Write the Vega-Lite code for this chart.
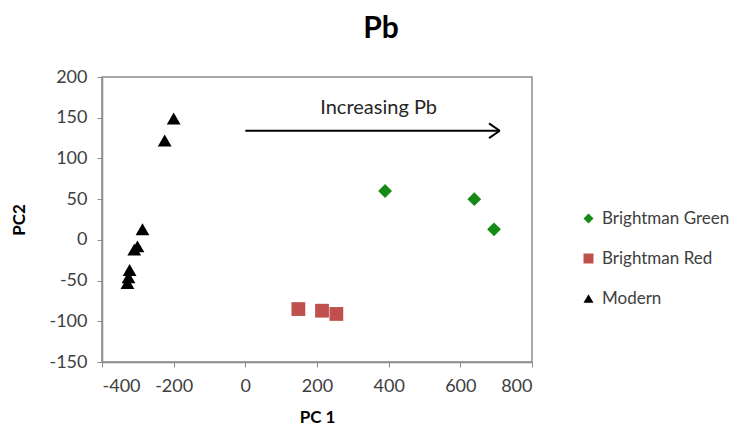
{
  "$schema": "https://vega.github.io/schema/vega-lite/v6.json",
  "width": 430,
  "height": 285,
  "autosize": "none",
  "padding": {"left": 102, "top": 77, "right": 224, "bottom": 71},
  "background": "white",
  "title": {
    "text": "Pb",
    "font": "Lato",
    "fontSize": 30,
    "fontWeight": "bold",
    "color": "#000000",
    "anchor": "middle",
    "dx": 64,
    "offset": 24
  },
  "config": {
    "view": {"stroke": "#8C8C8C", "strokeWidth": 1.5},
    "axis": {
      "grid": false,
      "domainColor": "#8C8C8C",
      "domainWidth": 1.5,
      "tickColor": "#8C8C8C",
      "tickSize": 5,
      "labelFont": "Lato",
      "labelFontSize": 18,
      "labelColor": "#404040",
      "labelExpr": "datum.value < 0 ? '-' + abs(datum.value) : '' + datum.value",
      "titleFont": "Lato",
      "titleFontSize": 17,
      "titleFontWeight": "bold",
      "titleColor": "#000000"
    },
    "legend": {"labelFont": "Lato", "labelFontSize": 17, "labelColor": "#404040"}
  },
  "layer": [
    {
      "data": {
        "values": [
          {"group": "Modern", "pc1": -200, "pc2": 149},
          {"group": "Modern", "pc1": -225, "pc2": 122},
          {"group": "Modern", "pc1": -287, "pc2": 13},
          {"group": "Modern", "pc1": -301, "pc2": -8},
          {"group": "Modern", "pc1": -310, "pc2": -12},
          {"group": "Modern", "pc1": -323, "pc2": -37},
          {"group": "Modern", "pc1": -326, "pc2": -46},
          {"group": "Modern", "pc1": -329, "pc2": -53},
          {"group": "Brightman Green", "pc1": 390, "pc2": 60},
          {"group": "Brightman Green", "pc1": 639, "pc2": 50},
          {"group": "Brightman Green", "pc1": 694, "pc2": 13},
          {"group": "Brightman Red", "pc1": 148, "pc2": -85},
          {"group": "Brightman Red", "pc1": 214, "pc2": -87},
          {"group": "Brightman Red", "pc1": 254, "pc2": -91}
        ]
      },
      "mark": {"type": "point", "filled": true, "opacity": 1, "size": 190},
      "encoding": {
        "x": {
          "field": "pc1",
          "type": "quantitative",
          "scale": {"domain": [-400, 800], "nice": false, "zero": false},
          "axis": {"values": [-400, -200, 0, 200, 400, 600, 800], "title": "PC 1", "labelPadding": 10, "titlePadding": 14}
        },
        "y": {
          "field": "pc2",
          "type": "quantitative",
          "scale": {"domain": [-150, 200], "nice": false, "zero": false},
          "axis": {"values": [-150, -100, -50, 0, 50, 100, 150, 200], "title": "PC2", "labelPadding": 10, "titlePadding": 20}
        },
        "color": {
          "field": "group",
          "type": "nominal",
          "scale": {
            "domain": ["Brightman Green", "Brightman Red", "Modern"],
            "range": ["#168A16", "#C0504D", "#000000"]
          },
          "legend": {
            "title": null,
            "orient": "none",
            "legendX": 478,
            "legendY": 133,
            "symbolSize": 100,
            "rowPadding": 22,
            "labelOffset": 5,
            "symbolStrokeWidth": 0
          }
        },
        "shape": {
          "field": "group",
          "type": "nominal",
          "scale": {
            "domain": ["Brightman Green", "Brightman Red", "Modern"],
            "range": ["diamond", "square", "triangle-up"]
          },
          "legend": null
        }
      }
    },
    {
      "data": {"values": [{"x1": 0, "x2": 710, "y": 134}]},
      "mark": {"type": "rule", "color": "#000000", "strokeWidth": 2},
      "encoding": {
        "x": {"field": "x1", "type": "quantitative"},
        "x2": {"field": "x2"},
        "y": {"field": "y", "type": "quantitative"}
      }
    },
    {
      "data": {
        "values": [
          {"x1": 710, "y1": 134, "x2": 680, "y2": 143},
          {"x1": 710, "y1": 134, "x2": 680, "y2": 125}
        ]
      },
      "mark": {"type": "rule", "color": "#000000", "strokeWidth": 2},
      "encoding": {
        "x": {"field": "x1", "type": "quantitative"},
        "x2": {"field": "x2"},
        "y": {"field": "y1", "type": "quantitative"},
        "y2": {"field": "y2"}
      }
    },
    {
      "data": {"values": [{"x": 372, "y": 162, "label": "Increasing Pb"}]},
      "mark": {"type": "text", "font": "Lato", "fontSize": 20, "color": "#262626", "align": "center", "baseline": "middle"},
      "encoding": {
        "x": {"field": "x", "type": "quantitative"},
        "y": {"field": "y", "type": "quantitative"},
        "text": {"field": "label"}
      }
    }
  ]
}
